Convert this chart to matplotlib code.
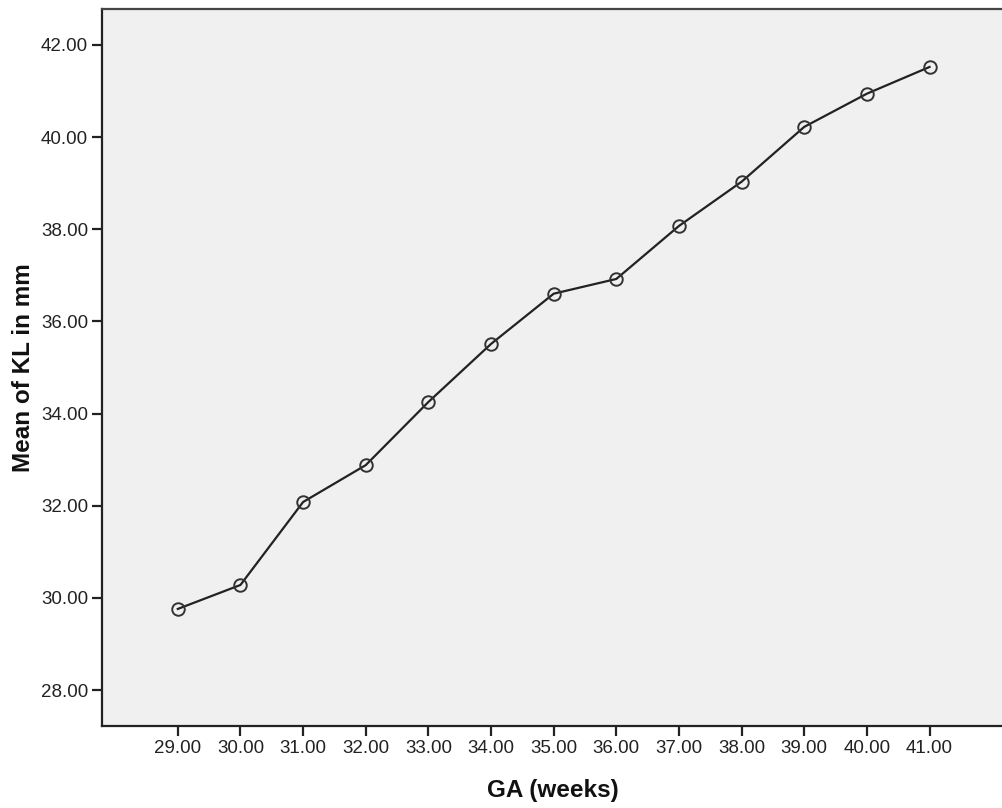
import matplotlib.pyplot as plt

plt.rcParams['font.family'] = ['Liberation Sans', 'DejaVu Sans']

# GA in weeks vs mean kidney length
ga_weeks = [29, 30, 31, 32, 33, 34, 35, 36, 37, 38, 39, 40, 41]
mean_kl = [29.76, 30.28, 32.08, 32.88, 34.25, 35.51, 36.60, 36.92, 38.07, 39.03, 40.22, 40.94, 41.52]
y_ticks = [28, 30, 32, 34, 36, 38, 40, 42]

fig = plt.figure(figsize=(10.03, 8.08), dpi=100)
ax = fig.add_axes([0.1017, 0.1015, 0.9, 0.8875])
ax.set_facecolor('#f0f0f0')

ax.plot(ga_weeks, mean_kl, color='#222222', linewidth=1.6, marker='o',
        markersize=9, markerfacecolor='none', markeredgecolor='#333333',
        markeredgewidth=1.4)

ax.set_xlim(27.79, 42.2)
ax.set_ylim(27.22, 42.78)
ax.set_xticks(ga_weeks)
ax.set_xticklabels(['%.2f' % v for v in ga_weeks])
ax.set_yticks(y_ticks)
ax.set_yticklabels(['%.2f' % v for v in y_ticks])
ax.tick_params(direction='out', length=7, width=1.6, color='#222222',
               labelsize=13.5, labelcolor='#222222', pad=3)

for side in ['left', 'bottom']:
    ax.spines[side].set_linewidth(1.6)
    ax.spines[side].set_color('#222222')
ax.spines['top'].set_linewidth(1.6)
ax.spines['top'].set_color('#444444')
ax.spines['right'].set_visible(False)

ax.set_xlabel('GA (weeks)', fontsize=17.5, fontweight='bold', color='#111111', labelpad=16)
ax.set_ylabel('Mean of KL in mm', fontsize=17.5, fontweight='bold', color='#111111', labelpad=4)

fig.savefig('out.png', dpi=100)
